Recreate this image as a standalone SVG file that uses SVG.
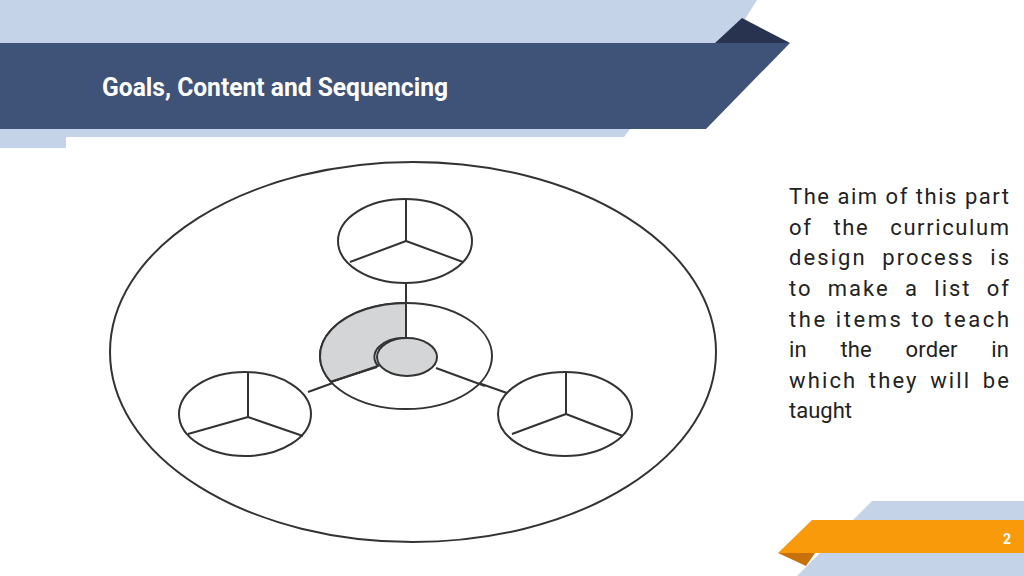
<svg xmlns="http://www.w3.org/2000/svg" width="1024" height="576" viewBox="0 0 1024 576">
<style>
.ln{fill:none;stroke:#333;stroke-width:2}
.wh{fill:#fff;stroke:#333;stroke-width:2}
.body{font-family:Roboto,"Liberation Sans",sans-serif;font-size:22px;fill:#222}
</style>
<rect width="1024" height="576" fill="#fff"/>
<g id="header">
<polygon points="0,0 757,0 730,43 0,43" fill="#c5d3e8"/>
<polygon points="0,129 630,129 624,137 66,137 66,148 0,148" fill="#c5d3e8"/>
<polygon points="715,43 742,18 790,43" fill="#28344f"/>
<polygon points="0,43 790,43 706,129 0,129" fill="#3f5378"/>
<text x="102" y="96" font-family="Roboto,'Liberation Sans',sans-serif" font-weight="bold" font-size="25" fill="#fff" textLength="346" lengthAdjust="spacingAndGlyphs">Goals, Content and Sequencing</text>
</g>
<g id="diagram">
<ellipse cx="413" cy="352" rx="303" ry="190" class="ln"/>
<g id="connectors">
<line x1="406" y1="283" x2="406" y2="338" class="ln"/>
<line x1="377" y1="367" x2="308" y2="392" class="ln"/>
<line x1="436" y1="368" x2="507" y2="393" class="ln"/>
</g>
<g id="center">
<ellipse cx="406" cy="356" rx="86" ry="53" class="wh"/>
<path d="M406,303 L406,338 A30,19 0 0 0 378,366 L331,382 A86,53 0 0 1 406,303 Z" fill="#d3d5d6" stroke="#333" stroke-width="2"/>
<line x1="406" y1="303" x2="406" y2="338" class="ln" stroke-width="2.5"/>
<line x1="377" y1="367" x2="330" y2="382" class="ln"/>
<line x1="436" y1="368" x2="485" y2="386" class="ln"/>
<ellipse cx="407" cy="357" rx="30" ry="19" fill="#d3d5d6" stroke="#333" stroke-width="2"/>
</g>
<g id="top">
<ellipse cx="405" cy="241" rx="67" ry="42" class="wh"/>
<path d="M406,200 L406,241 M406,241 L350,262 M406,241 L463,262" class="ln"/>
</g>
<g id="left">
<ellipse cx="245" cy="414" rx="66" ry="42" class="wh"/>
<path d="M248,372 L248,417 M248,417 L188,434 M248,417 L303,436" class="ln"/>
</g>
<g id="right">
<ellipse cx="565" cy="414" rx="67" ry="42" class="wh"/>
<path d="M566,373 L566,414 M566,414 L512,434 M566,414 L623,436" class="ln"/>
</g>
</g>
<g id="text" class="body">
<text x="789" y="204" textLength="220" lengthAdjust="spacing">The aim of this part</text>
<text x="789" y="235" textLength="220" lengthAdjust="spacing" word-spacing="14">of the curriculum</text>
<text x="789" y="265" textLength="220" lengthAdjust="spacing" word-spacing="8">design process is</text>
<text x="789" y="296" textLength="220" lengthAdjust="spacing" word-spacing="8">to make a list of</text>
<text x="789" y="327" textLength="220" lengthAdjust="spacing">the items to teach</text>
<text x="789" y="357" textLength="220" lengthAdjust="spacing" word-spacing="28">in the order in</text>
<text x="789" y="388" textLength="220" lengthAdjust="spacing" word-spacing="4">which they will be</text>
<text x="789" y="418">taught</text>
</g>
<g id="footer">
<polygon points="872,501 1024,501 1024,576 797,576" fill="#c5d3e8"/>
<polygon points="812,520 1024,520 1024,553 778,553" fill="#f89a0a"/>
<polygon points="778,553 815,553 806,566" fill="#c8700a"/>
<text x="1003" y="544" font-family="Roboto,'Liberation Sans',sans-serif" font-weight="bold" font-size="14" fill="#fff">2</text>
</g>
</svg>
